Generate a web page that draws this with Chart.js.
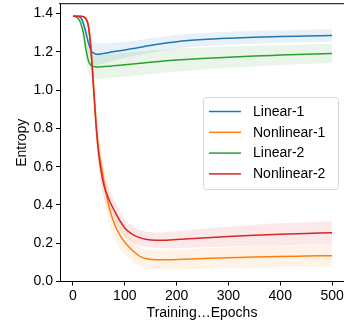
<!DOCTYPE html>
<html>
<head>
<meta charset="utf-8">
<script src="https://cdn.jsdelivr.net/npm/chart.js@4"></script>
<style>
  html, body { margin: 0; padding: 0; background: #fff; overflow: hidden; }
  #wrap { position: relative; width: 344px; height: 322px; overflow: hidden; }
  #wrap canvas { display: block; }
</style>
</head>
<body>
<div id="wrap"><canvas id="entropyChart"></canvas></div>
<script>
const epochs = [0, 5, 10, 15, 20, 25, 30, 35, 40, 45, 50, 55, 60, 70, 80, 90, 100, 110, 120, 130, 140, 160, 180, 200, 250, 300, 350, 400, 450, 500];

const linear1 = [1.386, 1.386, 1.385, 1.378, 1.35, 1.30, 1.245, 1.207, 1.193, 1.188, 1.188, 1.19, 1.192, 1.197, 1.202, 1.206, 1.210, 1.215, 1.219, 1.224, 1.229, 1.238, 1.246, 1.253, 1.264, 1.271, 1.276, 1.280, 1.283, 1.286];
const nonlinear1 = [1.386, 1.386, 1.386, 1.386, 1.384, 1.372, 1.335, 1.215, 1.02, 0.82, 0.68, 0.60, 0.52, 0.385, 0.30, 0.245, 0.205, 0.175, 0.15, 0.13, 0.12, 0.114, 0.113, 0.115, 0.12, 0.124, 0.128, 0.131, 0.133, 0.135];
const linear2 = [1.386, 1.384, 1.375, 1.35, 1.30, 1.215, 1.152, 1.13, 1.123, 1.121, 1.121, 1.122, 1.123, 1.125, 1.128, 1.130, 1.133, 1.135, 1.138, 1.140, 1.143, 1.148, 1.153, 1.157, 1.165, 1.172, 1.178, 1.183, 1.188, 1.192];
const nonlinear2 = [1.386, 1.386, 1.386, 1.386, 1.384, 1.372, 1.33, 1.2, 1.0, 0.80, 0.66, 0.565, 0.50, 0.425, 0.37, 0.32, 0.28, 0.255, 0.238, 0.228, 0.221, 0.216, 0.216, 0.219, 0.227, 0.235, 0.242, 0.247, 0.251, 0.255];

// half width of the shaded band around each curve
const linear1Spread = [0, 0.001, 0.003, 0.008, 0.02, 0.04, 0.055, 0.06, 0.06, 0.058, 0.056, 0.054, 0.052, 0.049, 0.046, 0.044, 0.042, 0.041, 0.04, 0.039, 0.038, 0.037, 0.036, 0.036, 0.035, 0.034, 0.034, 0.033, 0.033, 0.033];
const nonlinear1Spread = [0, 0, 0, 0, 0.002, 0.01, 0.03, 0.06, 0.08, 0.085, 0.085, 0.085, 0.085, 0.08, 0.075, 0.07, 0.065, 0.06, 0.055, 0.052, 0.05, 0.05, 0.05, 0.051, 0.053, 0.055, 0.056, 0.057, 0.057, 0.057];
const linear2Spread = [0, 0.003, 0.01, 0.025, 0.045, 0.06, 0.065, 0.065, 0.063, 0.062, 0.062, 0.062, 0.062, 0.062, 0.062, 0.062, 0.062, 0.062, 0.062, 0.062, 0.062, 0.061, 0.06, 0.06, 0.058, 0.056, 0.054, 0.052, 0.051, 0.05];
const nonlinear2Spread = [0, 0, 0, 0, 0.002, 0.01, 0.03, 0.06, 0.08, 0.08, 0.075, 0.07, 0.065, 0.06, 0.055, 0.05, 0.047, 0.044, 0.042, 0.04, 0.04, 0.04, 0.042, 0.044, 0.048, 0.052, 0.055, 0.057, 0.059, 0.06];

const seriesLabels = ["Linear-1", "Nonlinear-1", "Linear-2", "Nonlinear-2"];
const seriesColors = ["#1f77b4", "#ff7f0e", "#2ca02c", "#d62728"];
const xTicks = [0, 100, 200, 300, 400, 500];
const yTicks = [0.0, 0.2, 0.4, 0.6, 0.8, 1.0, 1.2, 1.4];

const FONT = "'Liberation Sans', Arial, sans-serif";

function points(values, offsets, sign) {
    return epochs.map((e, i) => ({ x: e, y: values[i] + (offsets ? sign * offsets[i] : 0) }));
}

function hexAlpha(hex, a) {
    const n = parseInt(hex.slice(1), 16);
    return "rgba(" + (n >> 16) + "," + ((n >> 8) & 255) + "," + (n & 255) + "," + a + ")";
}

const allValues = [linear1, nonlinear1, linear2, nonlinear2];
const allSpreads = [linear1Spread, nonlinear1Spread, linear2Spread, nonlinear2Spread];
const lineOrder = [4, 3, 2, 1];

const datasets = [];
allValues.forEach((vals, k) => {
    const c = seriesColors[k];
    datasets.push({
        data: points(vals, allSpreads[k], 1),
        borderWidth: 0,
        pointRadius: 0,
        backgroundColor: hexAlpha(c, 0.1),
        fill: "+1",
        cubicInterpolationMode: "monotone",
        order: 20
    });
    datasets.push({
        data: points(vals, allSpreads[k], -1),
        borderWidth: 0,
        pointRadius: 0,
        fill: false,
        cubicInterpolationMode: "monotone",
        order: 20
    });
});
allValues.forEach((vals, k) => {
    datasets.push({
        label: seriesLabels[k],
        data: points(vals, null, 0),
        borderColor: seriesColors[k],
        borderWidth: 1.5,
        pointRadius: 0,
        fill: false,
        cubicInterpolationMode: "monotone",
        order: lineOrder[k]
    });
});

// legend box drawn inside the plot, like matplotlib's
const legendBox = {
    id: "legendBox",
    afterDraw(chart) {
        const ctx = chart.ctx;
        ctx.save();
        const bx = 203.5, by = 97.5, bw = 135, bh = 92;
        ctx.fillStyle = "rgba(255,255,255,0.8)";
        ctx.strokeStyle = "#d6d6d6";
        ctx.lineWidth = 1;
        ctx.beginPath();
        ctx.roundRect(bx, by, bw, bh, 3);
        ctx.fill();
        ctx.stroke();

        ctx.font = "14px " + FONT;
        ctx.textBaseline = "middle";
        ctx.textAlign = "left";
        seriesLabels.forEach((lab, i) => {
            const y = 111.5 + i * 20.8;
            ctx.strokeStyle = seriesColors[i];
            ctx.lineWidth = 1.5;
            ctx.beginPath();
            ctx.moveTo(209, y);
            ctx.lineTo(241, y);
            ctx.stroke();
            ctx.fillStyle = "#000";
            ctx.fillText(lab, 253, y + 0.5);
        });
        ctx.restore();
    }
};

new Chart(document.getElementById("entropyChart").getContext("2d"), {
    type: "line",
    data: { datasets: datasets },
    options: {
        responsive: true,
        maintainAspectRatio: false,
        animation: false,
        layout: { padding: { top: 4, right: 0, left: 0, bottom: 0 } },
        plugins: {
            legend: { display: false },
            tooltip: { enabled: false }
        },
        scales: {
            x: {
                type: "linear",
                min: -25,
                max: 523,
                afterBuildTicks: s => { s.ticks = xTicks.map(v => ({ value: v })); },
                afterFit: s => { s.height = 40.5; s.paddingLeft = 0; s.paddingRight = 0; },
                grid: { drawOnChartArea: false, tickLength: 4, color: "#000" },
                border: { color: "#000", width: 1 },
                ticks: {
                    color: "#000",
                    padding: 2,
                    maxRotation: 0,
                    font: { family: FONT, size: 14 },
                    callback: v => String(v)
                },
                title: {
                    display: true,
                    text: "Training…Epochs",
                    color: "#000",
                    font: { family: FONT, size: 14 },
                    padding: { top: 0, bottom: 0.5 }
                }
            },
            xTop: {
                type: "linear",
                position: "top",
                min: -25,
                max: 523,
                afterFit: s => { s.height = 0; s.paddingLeft = 0; s.paddingRight = 0; },
                grid: { display: false },
                border: { display: true, color: "#333", width: 1.3 },
                ticks: { display: false }
            },
            y: {
                min: 0,
                max: 1.45,
                afterBuildTicks: s => { s.ticks = yTicks.map(v => ({ value: v })); },
                afterFit: s => { s.width = 60; s.paddingTop = 0; s.paddingBottom = 0; },
                grid: { drawOnChartArea: false, tickLength: 4, color: "#000" },
                border: { color: "#000", width: 1 },
                ticks: {
                    color: "#000",
                    padding: 3,
                    font: { family: FONT, size: 14 },
                    callback: v => v.toFixed(1)
                },
                title: {
                    display: true,
                    text: "Entropy",
                    color: "#000",
                    font: { family: FONT, size: 14 },
                    padding: { top: 13.5, bottom: 0 }
                }
            }
        }
    },
    plugins: [legendBox]
});
</script>
</body>
</html>
